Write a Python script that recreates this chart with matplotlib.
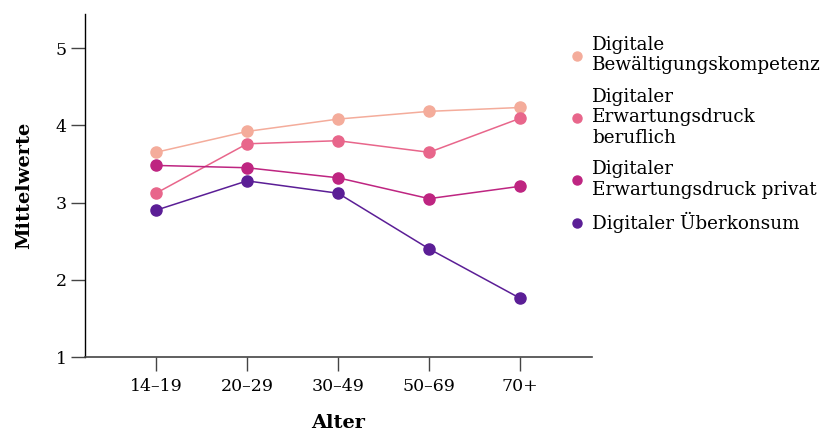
import matplotlib
matplotlib.use("Agg")
import matplotlib.pyplot as plt
from matplotlib.lines import Line2D

categories = ["14–19", "20–29", "30–49", "50–69", "70+"]
series_names = [
    "Digitale\nBewältigungskompetenz",
    "Digitaler\nErwartungsdruck\nberuflich",
    "Digitaler\nErwartungsdruck privat",
    "Digitaler Überkonsum",
]
kompetenz = [3.65, 3.92, 4.08, 4.18, 4.23]
beruflich = [3.12, 3.76, 3.80, 3.65, 4.09]
privat = [3.48, 3.45, 3.32, 3.05, 3.21]
ueberkonsum = [2.90, 3.28, 3.12, 2.40, 1.76]
yticks = [1, 2, 3, 4, 5]
colors = ["#F4AC9B", "#E8668B", "#BE2581", "#5B1E96"]

plt.rcParams['font.family'] = ['DejaVu Serif']

fig = plt.figure(figsize=(8.3, 4.34), dpi=100)
ax = fig.add_axes([0.1024, 0.1774, 0.6109, 0.7903])

x = list(range(len(categories)))
all_series = [kompetenz, beruflich, privat, ueberkonsum]
for vals, c in zip(all_series, colors):
    ax.plot(x, vals, color=c, lw=1.1, marker='o', markersize=8, zorder=3)

ax.set_xlim(-0.78, 4.79)
ax.set_ylim(1, 5.44)
ax.set_xticks(x)
ax.set_xticklabels(categories)
ax.set_yticks(yticks)
ax.tick_params(axis='both', labelsize=12.5, length=10, width=1, color='#444444')
ax.tick_params(axis='x', pad=5)
ax.tick_params(axis='y', pad=3)
for s in ['top', 'right']:
    ax.spines[s].set_visible(False)
ax.spines['left'].set_color('black')
ax.spines['bottom'].set_color('#444444')
ax.spines['left'].set_linewidth(1)
ax.spines['bottom'].set_linewidth(1.2)

ax.set_xlabel("Alter", fontsize=14, fontweight='bold', labelpad=14)
ax.set_ylabel("Mittelwerte", fontsize=14, fontweight='bold', labelpad=16)

handles = [Line2D([0], [0], color=c, marker='o', linestyle='none', markersize=6.5) for c in colors]
leg = fig.legend(handles, series_names, loc='upper left', bbox_to_anchor=(0.677, 0.935),
                 frameon=False, fontsize=13.2, handlelength=0.8, handletextpad=0.45,
                 labelspacing=0.72, borderaxespad=0)

fig.savefig("out.png", dpi=100)
